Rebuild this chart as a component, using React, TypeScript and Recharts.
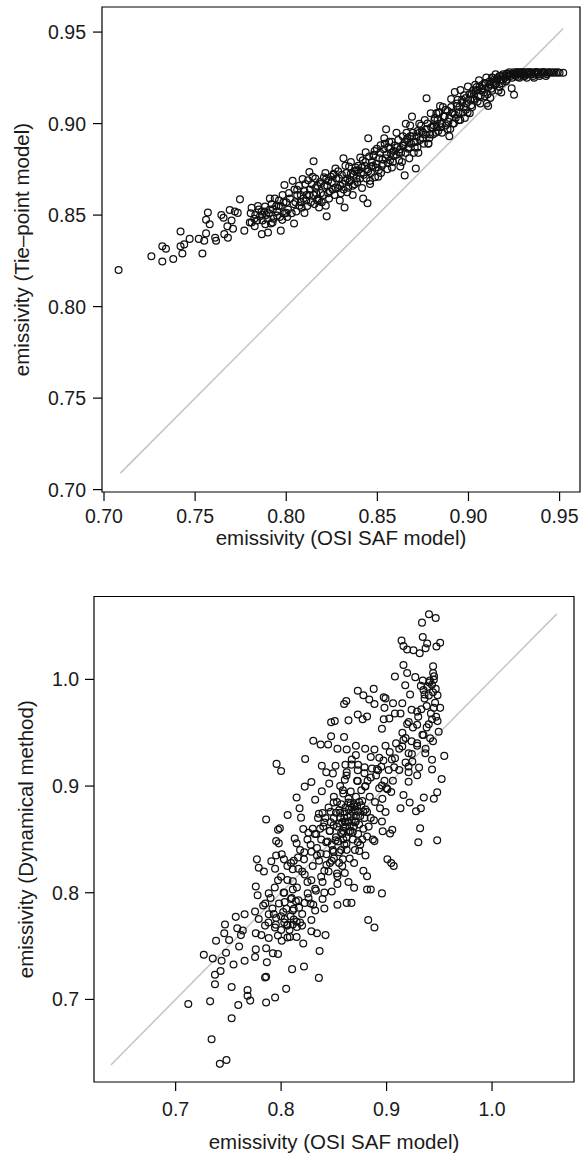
import React from "react";
import { ScatterChart, Scatter, XAxis, YAxis, ReferenceLine, ReferenceArea, Label } from "recharts";

// ---------- Top panel: OSI SAF model (x) vs Tie-point model (y) ----------
const topXTicks = [0.7, 0.75, 0.8, 0.85, 0.9, 0.95];
const topXDomain = [0.6989, 0.9612];
const topYDomain = [0.6987, 0.9637];
const topDiagonal = [0.709, 0.952];
const tiePointPairs: [number, number][] = [
  [0.708, 0.820], [0.726, 0.8275], [0.732, 0.833], [0.732, 0.8246], [0.734, 0.8316], [0.738, 0.826],
  [0.742, 0.841], [0.742, 0.833], [0.743, 0.829], [0.744, 0.834], [0.747, 0.837], [0.752, 0.837],
  [0.754, 0.829], [0.755, 0.836], [0.756, 0.8475], [0.757, 0.8514], [0.756, 0.840], [0.758, 0.845],
  [0.761, 0.8376], [0.7615, 0.836], [0.7644, 0.850], [0.7656, 0.8485], [0.766, 0.8396], [0.7677, 0.8439],
  [0.768, 0.8376], [0.769, 0.8528], [0.770, 0.847], [0.7708, 0.8425], [0.7718, 0.852], [0.7734, 0.8512],
  [0.7746, 0.8586], [0.777, 0.8415], [0.781, 0.854], [0.780, 0.846], [0.7827, 0.8439], [0.784, 0.847],
  [0.7856, 0.8493], [0.7866, 0.8396], [0.7868, 0.8503], [0.788, 0.852], [0.7884, 0.8547], [0.7897, 0.848],
  [0.790, 0.8405], [0.791, 0.859], [0.7916, 0.8454], [0.7927, 0.8532], [0.7937, 0.859], [0.795, 0.8497],
  [0.796, 0.8551], [0.797, 0.8415], [0.7978, 0.8474], [0.798, 0.861], [0.799, 0.8664], [0.800, 0.857],
  [0.800, 0.8512], [0.8035, 0.8687], [0.8043, 0.8454], [0.805, 0.857], [0.806, 0.8639], [0.8072, 0.8551],
  [0.808, 0.861], [0.809, 0.8697], [0.810, 0.8512], [0.8112, 0.861], [0.8127, 0.8736], [0.814, 0.8668],
  [0.815, 0.8794], [0.816, 0.8648], [0.8171, 0.858], [0.818, 0.8542], [0.819, 0.867], [0.8207, 0.8707],
  [0.8217, 0.8551], [0.8222, 0.8493], [0.823, 0.8687], [0.824, 0.863], [0.826, 0.8726], [0.827, 0.8755],
  [0.8284, 0.8648], [0.8294, 0.858], [0.8314, 0.881], [0.832, 0.8542], [0.8324, 0.8687], [0.8334, 0.8625],
  [0.8345, 0.8765], [0.8355, 0.8726], [0.8365, 0.861], [0.8375, 0.8668], [0.8385, 0.8745], [0.8395, 0.8745],
  [0.8406, 0.8814], [0.8416, 0.8648], [0.8422, 0.859], [0.8436, 0.8843], [0.8446, 0.8565], [0.845, 0.892],
  [0.846, 0.8687], [0.8467, 0.8765], [0.8477, 0.8823], [0.8487, 0.8707], [0.8497, 0.8862], [0.8508, 0.8745],
  [0.8518, 0.8882], [0.8528, 0.8804], [0.8538, 0.892], [0.8548, 0.8969], [0.8558, 0.8784], [0.8569, 0.8862],
  [0.8579, 0.89], [0.8589, 0.8823], [0.8605, 0.895], [0.862, 0.8843], [0.8626, 0.8765], [0.864, 0.8882],
  [0.865, 0.8717], [0.8656, 0.8999], [0.866, 0.891], [0.867, 0.8862], [0.868, 0.8931], [0.869, 0.9038],
  [0.8701, 0.89], [0.8711, 0.8755], [0.8721, 0.896], [0.873, 0.8999], [0.875, 0.895], [0.877, 0.9138],
  [0.878, 0.8891], [0.8793, 0.9057], [0.8803, 0.8979], [0.8813, 0.9018], [0.8824, 0.9057], [0.8834, 0.896],
  [0.8844, 0.9096], [0.8854, 0.8999], [0.8864, 0.9038], [0.8875, 0.9076], [0.8885, 0.8969], [0.8895, 0.8931],
  [0.8905, 0.9134], [0.8915, 0.9057], [0.8925, 0.9173], [0.8936, 0.9096], [0.8946, 0.9018], [0.8956, 0.9183],
  [0.8966, 0.9115], [0.8976, 0.9154], [0.8986, 0.9076], [0.8997, 0.9203], [0.9007, 0.9057], [0.9017, 0.9164],
  [0.9027, 0.9134], [0.9037, 0.9212], [0.9047, 0.9183], [0.9058, 0.9236], [0.9068, 0.9154], [0.9078, 0.9193],
  [0.9088, 0.9222], [0.9098, 0.9251], [0.9108, 0.9096], [0.9119, 0.9212], [0.9129, 0.9251], [0.9139, 0.9228],
  [0.9149, 0.927], [0.916, 0.9247], [0.917, 0.926], [0.918, 0.9241], [0.919, 0.927], [0.92, 0.9251],
  [0.921, 0.9274], [0.9237, 0.9193], [0.925, 0.9158], [0.923, 0.926], [0.926, 0.9274], [0.927, 0.9255],
  [0.928, 0.9278], [0.930, 0.926], [0.932, 0.9278], [0.934, 0.927], [0.936, 0.9278], [0.938, 0.927],
  [0.940, 0.9278], [0.942, 0.9278], [0.944, 0.9278], [0.946, 0.9278], [0.948, 0.9278], [0.950, 0.9278],
  [0.952, 0.9278],
  [0.781, 0.846], [0.783, 0.850], [0.785, 0.853], [0.787, 0.847], [0.789, 0.850], [0.791, 0.853],
  [0.793, 0.848], [0.795, 0.852], [0.797, 0.855], [0.799, 0.851], [0.792, 0.856], [0.796, 0.858],
  [0.801, 0.853], [0.802, 0.859], [0.804, 0.856], [0.806, 0.861], [0.808, 0.857], [0.810, 0.863],
  [0.811, 0.858], [0.813, 0.864], [0.815, 0.861], [0.817, 0.866], [0.819, 0.862], [0.812, 0.869],
  [0.816, 0.870], [0.818, 0.858],
  [0.821, 0.866], [0.823, 0.862], [0.825, 0.868], [0.827, 0.865], [0.829, 0.870], [0.831, 0.867],
  [0.833, 0.873], [0.835, 0.869], [0.837, 0.872], [0.839, 0.868], [0.826, 0.872], [0.834, 0.865],
  [0.838, 0.876], [0.822, 0.870], [0.830, 0.862],
  [0.841, 0.873], [0.843, 0.877], [0.845, 0.874], [0.847, 0.879], [0.849, 0.876], [0.851, 0.881],
  [0.853, 0.878], [0.855, 0.883], [0.857, 0.880], [0.859, 0.885], [0.844, 0.870], [0.848, 0.883],
  [0.852, 0.873], [0.856, 0.887], [0.858, 0.876], [0.846, 0.867], [0.854, 0.889], [0.842, 0.880],
  [0.861, 0.887], [0.863, 0.884], [0.865, 0.890], [0.867, 0.887], [0.869, 0.893], [0.871, 0.890],
  [0.873, 0.895], [0.875, 0.892], [0.877, 0.897], [0.879, 0.894], [0.862, 0.880], [0.866, 0.895],
  [0.870, 0.884], [0.874, 0.899], [0.878, 0.889], [0.868, 0.899], [0.872, 0.887], [0.876, 0.902],
  [0.864, 0.893],
  [0.881, 0.899], [0.883, 0.902], [0.885, 0.898], [0.887, 0.904], [0.889, 0.901], [0.891, 0.906],
  [0.893, 0.903], [0.895, 0.909], [0.897, 0.906], [0.899, 0.911], [0.882, 0.895], [0.886, 0.909],
  [0.890, 0.897], [0.894, 0.913], [0.898, 0.903], [0.884, 0.906], [0.892, 0.900],
  [0.901, 0.913], [0.903, 0.916], [0.905, 0.912], [0.907, 0.918], [0.909, 0.915], [0.911, 0.920],
  [0.913, 0.918], [0.915, 0.922], [0.917, 0.920], [0.919, 0.924], [0.902, 0.909], [0.906, 0.920],
  [0.910, 0.911], [0.914, 0.924], [0.918, 0.917], [0.904, 0.918], [0.912, 0.914],
  [0.921, 0.924], [0.922, 0.927], [0.924, 0.925], [0.925, 0.928], [0.926, 0.926], [0.927, 0.928],
  [0.929, 0.927], [0.930, 0.928], [0.931, 0.926], [0.933, 0.928], [0.935, 0.927], [0.937, 0.928],
  [0.939, 0.926], [0.941, 0.928], [0.943, 0.927], [0.945, 0.928], [0.947, 0.928], [0.949, 0.928],
  [0.928, 0.925], [0.932, 0.925], [0.936, 0.925],
  [0.8005, 0.849], [0.8015, 0.862], [0.803, 0.851], [0.8045, 0.864], [0.8055, 0.852], [0.807, 0.866],
  [0.8085, 0.854], [0.8095, 0.859], [0.8105, 0.867], [0.8115, 0.855], [0.8125, 0.861], [0.8135, 0.857],
  [0.8145, 0.871], [0.8155, 0.856], [0.8165, 0.862], [0.8175, 0.859], [0.8185, 0.868], [0.8195, 0.857],
  [0.8205, 0.861], [0.8215, 0.873], [0.8225, 0.866], [0.8235, 0.859], [0.8245, 0.871], [0.8255, 0.864],
  [0.8265, 0.861], [0.8275, 0.870], [0.8285, 0.874], [0.8295, 0.866], [0.8305, 0.872], [0.8315, 0.864],
  [0.8325, 0.877], [0.8335, 0.870], [0.8345, 0.868], [0.8355, 0.879], [0.8365, 0.866], [0.8375, 0.874],
  [0.8385, 0.870], [0.8395, 0.877],
  [0.8405, 0.870], [0.8415, 0.876], [0.8425, 0.872], [0.8435, 0.879], [0.8445, 0.875], [0.8455, 0.882],
  [0.8465, 0.873], [0.8475, 0.877], [0.8485, 0.885], [0.8495, 0.878], [0.8505, 0.871], [0.8515, 0.884],
  [0.8525, 0.877], [0.8535, 0.886], [0.8545, 0.881], [0.8555, 0.875], [0.8565, 0.890], [0.8575, 0.884],
  [0.8585, 0.879], [0.8595, 0.888],
  [0.8605, 0.883], [0.8615, 0.891], [0.8625, 0.886], [0.8635, 0.879], [0.8645, 0.888], [0.8655, 0.884],
  [0.8665, 0.892], [0.8675, 0.881], [0.8685, 0.889], [0.8695, 0.895], [0.8705, 0.887], [0.8715, 0.893],
  [0.8725, 0.884], [0.8735, 0.891], [0.8745, 0.896], [0.8755, 0.889], [0.8765, 0.894], [0.8775, 0.900],
  [0.8785, 0.892], [0.8795, 0.898],
  [0.8805, 0.894], [0.8815, 0.903], [0.8825, 0.898], [0.8835, 0.906], [0.8845, 0.900], [0.8855, 0.895],
  [0.8865, 0.904], [0.8875, 0.899], [0.8885, 0.907], [0.8895, 0.903], [0.8905, 0.909], [0.8915, 0.900],
  [0.8925, 0.905], [0.8935, 0.911], [0.8945, 0.906], [0.8955, 0.902], [0.8965, 0.913], [0.8975, 0.909],
  [0.8985, 0.914], [0.8995, 0.906],
  [0.9005, 0.916], [0.9015, 0.910], [0.9025, 0.918], [0.9035, 0.913], [0.9045, 0.920], [0.9055, 0.915],
  [0.9065, 0.911], [0.9075, 0.921], [0.9085, 0.917], [0.9095, 0.922], [0.9105, 0.916], [0.9115, 0.923],
  [0.9125, 0.919], [0.9135, 0.925], [0.9145, 0.921], [0.9155, 0.924], [0.9165, 0.918], [0.9175, 0.926],
  [0.9185, 0.922], [0.9195, 0.926], [0.9205, 0.923], [0.9215, 0.926], [0.9225, 0.928], [0.9235, 0.927],
  [0.9245, 0.927],
  [0.9255, 0.927], [0.9265, 0.928], [0.9275, 0.927], [0.9285, 0.928], [0.9295, 0.928], [0.9305, 0.927],
  [0.9315, 0.928], [0.9325, 0.927], [0.9335, 0.928], [0.9345, 0.928], [0.9355, 0.926], [0.9365, 0.928],
  [0.9375, 0.928], [0.9385, 0.928], [0.9395, 0.927], [0.9405, 0.928], [0.9415, 0.928], [0.9425, 0.926],
  [0.9435, 0.928],
  [0.7805, 0.851], [0.7825, 0.848], [0.7845, 0.855], [0.7865, 0.852], [0.7885, 0.845], [0.7905, 0.851],
  [0.7925, 0.846], [0.7945, 0.855], [0.7965, 0.849], [0.7985, 0.857],
];

// ---------- Bottom panel: OSI SAF model (x) vs Dynamical method (y) ----------
const botXTicks = [0.7, 0.8, 0.9, 1.0];
const botDomain = [0.6226, 1.0777];
const botDiagonal = [0.6386, 1.0614];
const dynamicalPairs: [number, number][] = [
  [0.9402, 1.061], [0.9466, 1.0575], [0.9336, 1.0532], [0.9343, 1.0397], [0.9142, 1.0365], [0.9508, 1.0344],
  [0.9385, 1.0337], [0.916, 1.0312], [0.9195, 1.028], [0.9255, 1.0273], [0.9314, 1.0245], [0.9473, 1.0309],
  [0.937, 1.0291], [0.916, 1.0135], [0.9441, 1.0124], [0.9195, 1.006], [0.9079, 1.0028], [0.9272, 1.0021],
  [0.9441, 1.006], [0.9343, 0.9989], [0.9406, 0.9971], [0.9325, 0.9939], [0.9448, 0.9996], [0.9466, 0.9911],
  [0.9177, 0.9946], [0.9223, 0.9858], [0.936, 0.9858], [0.9483, 0.9851], [0.8878, 0.9911], [0.8727, 0.9893],
  [0.878, 0.9851], [0.8836, 0.9812], [0.8618, 0.9797], [0.8597, 0.9769], [0.8973, 0.9833], [0.899, 0.9822],
  [0.9061, 0.9776], [0.9149, 0.9776], [0.9132, 0.968], [0.9079, 0.968], [0.8885, 0.9769], [0.898, 0.9733],
  [0.9237, 0.9716], [0.929, 0.9698], [0.9448, 0.9733], [0.9508, 0.9733], [0.8727, 0.967], [0.8815, 0.9652],
  [0.8773, 0.9627], [0.8639, 0.9616], [0.8474, 0.9599], [0.8509, 0.9609], [0.8973, 0.9627], [0.9026, 0.9634],
  [0.9195, 0.9581], [0.929, 0.9574], [0.9431, 0.9627], [0.9483, 0.9609], [0.9494, 0.951], [0.8956, 0.9538],
  [0.935, 0.9478], [0.8597, 0.946], [0.8474, 0.9467], [0.8305, 0.9425], [0.8375, 0.9389], [0.8446, 0.9389],
  [0.916, 0.9432], [0.9237, 0.9421], [0.9413, 0.9449], [0.9149, 0.9371], [0.929, 0.9378], [0.8709, 0.9378],
  [0.8797, 0.935], [0.899, 0.9378], [0.8885, 0.9343], [0.8534, 0.935], [0.8622, 0.9343], [0.9209, 0.9307],
  [0.9367, 0.9307], [0.9547, 0.9283], [0.8228, 0.9254], [0.8709, 0.929], [0.885, 0.9272], [0.8931, 0.9265],
  [0.9244, 0.9229], [0.7957, 0.9208], [0.8, 0.9141], [0.8386, 0.919], [0.8516, 0.919], [0.8667, 0.9201],
  [0.8791, 0.9176], [0.8861, 0.9165], [0.9072, 0.9176], [0.9209, 0.9183], [0.9308, 0.9173], [0.9431, 0.9247],
  [0.9431, 0.9155], [0.8428, 0.913], [0.8491, 0.9119], [0.8622, 0.913], [0.8727, 0.9148], [0.892, 0.9148],
  [0.9209, 0.913], [0.929, 0.9102], [0.9522, 0.9066], [0.8224, 0.8995], [0.8287, 0.9038], [0.8456, 0.9023],
  [0.8604, 0.9059], [0.8727, 0.9048], [0.8797, 0.8995], [0.8956, 0.9006], [0.9008, 0.897], [0.9044, 0.8945],
  [0.916, 0.8917], [0.9209, 0.9041], [0.8386, 0.8952], [0.8586, 0.896], [0.948, 0.8942], [0.9353, 0.8892],
  [0.9448, 0.8881], [0.9219, 0.8846], [0.9132, 0.8793], [0.9279, 0.8764], [0.8147, 0.8892], [0.8175, 0.8793],
  [0.8323, 0.8871], [0.8358, 0.874], [0.8393, 0.8747], [0.8498, 0.8846], [0.8551, 0.8775], [0.8639, 0.8846],
  [0.8692, 0.881], [0.8815, 0.8757], [0.8938, 0.8793], [0.899, 0.8757], [0.9325, 0.8793], [0.8062, 0.8729],
  [0.8189, 0.8704], [0.7858, 0.8686], [0.841, 0.8658], [0.8498, 0.8633], [0.8604, 0.8668], [0.8709, 0.8668],
  [0.8956, 0.8668], [0.8963, 0.8576], [0.9054, 0.859], [0.9033, 0.8555], [0.9318, 0.8605], [0.821, 0.8597],
  [0.8259, 0.8562], [0.8333, 0.8551], [0.8463, 0.858], [0.8569, 0.8562], [0.8657, 0.858], [0.7971, 0.859],
  [0.7988, 0.8605], [0.9301, 0.8473], [0.948, 0.8491], [0.7953, 0.8484], [0.7978, 0.8463], [0.8129, 0.8509],
  [0.8147, 0.8463], [0.8428, 0.8473], [0.8516, 0.8491], [0.8727, 0.8473], [0.8815, 0.8527], [0.8885, 0.8484],
  [0.8287, 0.8384], [0.8375, 0.8367], [0.8498, 0.8384], [0.8622, 0.8402], [0.8741, 0.8392], [0.8006, 0.836],
  [0.8027, 0.8313], [0.7953, 0.8349], [0.8094, 0.8278], [0.8217, 0.8313], [0.834, 0.8349], [0.8463, 0.8278],
  [0.8586, 0.8313], [0.8692, 0.8278], [0.777, 0.8313], [0.7907, 0.8296], [0.7788, 0.8235], [0.7837, 0.82],
  [0.7943, 0.8225], [0.8164, 0.8225], [0.8224, 0.8171], [0.841, 0.8207], [0.8534, 0.8154], [0.8604, 0.8186],
  [0.878, 0.8207], [0.8815, 0.8154], [0.9008, 0.8313], [0.9044, 0.8278], [0.9068, 0.825], [0.7971, 0.8118],
  [0.8111, 0.8108], [0.8287, 0.8118], [0.8393, 0.81], [0.8534, 0.8083], [0.8639, 0.81], [0.8692, 0.8047],
  [0.776, 0.8058], [0.7777, 0.7976], [0.7883, 0.7994], [0.8111, 0.803], [0.8323, 0.8037], [0.841, 0.8001],
  [0.848, 0.8012], [0.8815, 0.803], [0.885, 0.803], [0.8956, 0.7994], [0.8024, 0.8001], [0.8252, 0.7994],
  [0.8094, 0.7941], [0.8164, 0.793], [0.8393, 0.7941], [0.8534, 0.7887], [0.8622, 0.7905], [0.8667, 0.7905],
  [0.783, 0.788], [0.7918, 0.7852], [0.8034, 0.7912], [0.8224, 0.7905], [0.8305, 0.7887], [0.7753, 0.7824],
  [0.7654, 0.7799], [0.7883, 0.7799], [0.8111, 0.7834], [0.8323, 0.7834], [0.841, 0.7852], [0.757, 0.7774],
  [0.7788, 0.7753], [0.7953, 0.7763], [0.8034, 0.7753], [0.8147, 0.7728], [0.8287, 0.7745], [0.8826, 0.7745],
  [0.8885, 0.7674], [0.7468, 0.7703], [0.7584, 0.7667], [0.7637, 0.7646], [0.7848, 0.7692], [0.7942, 0.7674],
  [0.8059, 0.7692], [0.8111, 0.7703], [0.8199, 0.7692], [0.8287, 0.7639], [0.834, 0.7621], [0.8421, 0.7603],
  [0.7461, 0.7621], [0.7619, 0.7603], [0.776, 0.7621], [0.7813, 0.7603], [0.7883, 0.7575], [0.8006, 0.755],
  [0.8083, 0.7586], [0.8147, 0.7586], [0.821, 0.7525], [0.7383, 0.755], [0.7507, 0.7557], [0.7602, 0.7497],
  [0.776, 0.7469], [0.7858, 0.7479], [0.7922, 0.7433], [0.7971, 0.7426], [0.8365, 0.7454], [0.7267, 0.7419],
  [0.7352, 0.7383], [0.7478, 0.7437], [0.7654, 0.7362], [0.7753, 0.7398], [0.7436, 0.7362], [0.7426, 0.7266],
  [0.7373, 0.7231], [0.7549, 0.7327], [0.7865, 0.7348], [0.8104, 0.7284], [0.8217, 0.7309], [0.7373, 0.7142],
  [0.7531, 0.7117], [0.7858, 0.7213], [0.7848, 0.7206], [0.8358, 0.7202], [0.8048, 0.7099], [0.7682, 0.7089],
  [0.7682, 0.7035], [0.7707, 0.6989], [0.7327, 0.6982], [0.712, 0.6957], [0.7594, 0.6947], [0.7858, 0.6972],
  [0.7943, 0.7018], [0.7531, 0.6823], [0.7341, 0.6627], [0.7419, 0.6396], [0.7482, 0.6432],
  [0.850, 0.870], [0.853, 0.862], [0.856, 0.875], [0.858, 0.866], [0.861, 0.880], [0.863, 0.871],
  [0.866, 0.884], [0.868, 0.876], [0.870, 0.866], [0.872, 0.881], [0.875, 0.872], [0.877, 0.886],
  [0.880, 0.878], [0.859, 0.858], [0.865, 0.862], [0.871, 0.890], [0.854, 0.848], [0.862, 0.852],
  [0.868, 0.857], [0.874, 0.864], [0.846, 0.858], [0.848, 0.845], [0.857, 0.840], [0.843, 0.836],
  [0.838, 0.850], [0.834, 0.842], [0.840, 0.862], [0.866, 0.895], [0.876, 0.896], [0.882, 0.905],
  [0.890, 0.910], [0.895, 0.918], [0.905, 0.925], [0.912, 0.935], [0.918, 0.945], [0.925, 0.955],
  [0.930, 0.965], [0.938, 0.975], [0.940, 0.985], [0.943, 0.995], [0.935, 0.990], [0.945, 1.003],
  [0.942, 0.968], [0.938, 0.955], [0.944, 0.942], [0.937, 0.935], [0.820, 0.820], [0.825, 0.810],
  [0.815, 0.805], [0.810, 0.795], [0.805, 0.785], [0.800, 0.778], [0.795, 0.770], [0.812, 0.775],
  [0.808, 0.765], [0.800, 0.765], [0.817, 0.786], [0.826, 0.795], [0.830, 0.825], [0.836, 0.830],
  [0.845, 0.820], [0.850, 0.832], [0.855, 0.828], [0.860, 0.845], [0.878, 0.860], [0.885, 0.870],
  [0.889, 0.885], [0.893, 0.898], [0.898, 0.905], [0.902, 0.915], [0.908, 0.926], [0.884, 0.890],
  [0.880, 0.900], [0.872, 0.905], [0.862, 0.910], [0.856, 0.900], [0.850, 0.890], [0.845, 0.880],
  [0.835, 0.870], [0.830, 0.860], [0.825, 0.850], [0.818, 0.840], [0.812, 0.830], [0.806, 0.825],
  [0.800, 0.815], [0.794, 0.805], [0.790, 0.795], [0.785, 0.790],
  [0.852, 0.875], [0.857, 0.883], [0.860, 0.870], [0.864, 0.878], [0.867, 0.868], [0.869, 0.883],
  [0.873, 0.876], [0.876, 0.882], [0.879, 0.870], [0.855, 0.865], [0.861, 0.862], [0.866, 0.872],
  [0.870, 0.878], [0.858, 0.855], [0.852, 0.852], [0.847, 0.866], [0.844, 0.848], [0.849, 0.840],
  [0.855, 0.838], [0.862, 0.846], [0.868, 0.850], [0.873, 0.855], [0.877, 0.850], [0.883, 0.862],
  [0.888, 0.868], [0.864, 0.888], [0.859, 0.893], [0.853, 0.885], [0.847, 0.876], [0.842, 0.870],
  [0.837, 0.860], [0.832, 0.855], [0.828, 0.845], [0.822, 0.838], [0.816, 0.833], [0.811, 0.822],
  [0.806, 0.812], [0.803, 0.800], [0.798, 0.790], [0.793, 0.780], [0.788, 0.772], [0.803, 0.772],
  [0.797, 0.760], [0.806, 0.758], [0.815, 0.768], [0.820, 0.780], [0.828, 0.790], [0.833, 0.802],
  [0.838, 0.815], [0.843, 0.826], [0.848, 0.830], [0.853, 0.818], [0.858, 0.825], [0.865, 0.832],
  [0.870, 0.840], [0.875, 0.845], [0.880, 0.835], [0.887, 0.850],
  [0.933, 0.972], [0.936, 0.982], [0.939, 0.993], [0.941, 0.999], [0.944, 0.988], [0.946, 0.978],
  [0.947, 0.965], [0.940, 0.958], [0.934, 0.948], [0.929, 0.940], [0.924, 0.930], [0.918, 0.922],
  [0.912, 0.915], [0.906, 0.905], [0.900, 0.898], [0.896, 0.888], [0.921, 0.960], [0.915, 0.950],
  [0.909, 0.940], [0.903, 0.932], [0.897, 0.924], [0.891, 0.916], [0.885, 0.908], [0.879, 0.912],
  [0.873, 0.920], [0.867, 0.925], [0.861, 0.920],
  [0.863, 0.866], [0.867, 0.880], [0.871, 0.872], [0.874, 0.885], [0.878, 0.876], [0.860, 0.876],
  [0.856, 0.870], [0.869, 0.862], [0.864, 0.857], [0.859, 0.850], [0.812, 0.785], [0.809, 0.778],
  [0.814, 0.792], [0.806, 0.770], [0.818, 0.772], [0.802, 0.782],
];

const xTitle = "emissivity (OSI SAF model)";
const topYTitle = "emissivity (Tie\u2013point model)";
const botYTitle = "emissivity (Dynamical method)";

const FONT = "'Liberation Sans', Arial, Helvetica, sans-serif";
const TEXT = "#1a1a1a";

const topData = tiePointPairs.map(([x, y]) => ({ x, y }));
const botData = dynamicalPairs.map(([x, y]) => ({ x, y }));

const Ring = (props: any) => {
  const { cx, cy } = props;
  if (cx == null || cy == null) return null;
  return <circle cx={cx} cy={cy} r={3.4} fill="none" stroke="#111" strokeWidth={1.25} />;
};

const tickStyle = { fontSize: 19.5, fill: TEXT, fontFamily: FONT };

const xTitleContent = (dy: number) => (props: any) => {
  const vb = props.viewBox || {};
  return (
    <text x={vb.x + vb.width / 2} y={vb.y + dy} textAnchor="middle" fontSize={20.5} fill={TEXT} fontFamily={FONT}>
      {xTitle}
    </text>
  );
};

const yTitleContent = (text: string, baseX: number) => (props: any) => {
  const vb = props.viewBox || {};
  const cy = vb.y + vb.height / 2;
  return (
    <text
      x={baseX}
      y={cy}
      transform={`rotate(-90, ${baseX}, ${cy})`}
      textAnchor="middle"
      fontSize={20.5}
      fill={TEXT}
      fontFamily={FONT}
    >
      {text}
    </text>
  );
};

export default function App() {
  return (
    <div style={{ position: "absolute", left: 0, top: 0, width: 582, height: 1153, background: "#fff" }}>
      <div style={{ position: "absolute", left: 0, top: 0 }}>
        <ScatterChart width={582} height={560} margin={{ top: 7, right: 2, bottom: 8, left: 0 }}>
          <XAxis
            type="number"
            dataKey="x"
            domain={topXDomain}
            ticks={topXTicks}
            allowDataOverflow
            axisLine={false}
            tickLine={{ stroke: "#000", strokeWidth: 1.2 }}
            tickSize={9}
            tickMargin={8}
            height={60}
            tick={tickStyle}
            tickFormatter={(v: number) => v.toFixed(2)}
            interval={0}
          >
            <Label content={xTitleContent(53)} />
          </XAxis>
          <YAxis
            type="number"
            dataKey="y"
            domain={topYDomain}
            ticks={topXTicks}
            allowDataOverflow
            axisLine={false}
            tickLine={{ stroke: "#000", strokeWidth: 1.2 }}
            tickSize={9}
            tickMargin={7}
            width={102}
            tick={tickStyle}
            tickFormatter={(v: number) => v.toFixed(2)}
            interval={0}
          >
            <Label content={yTitleContent(topYTitle, 29)} />
          </YAxis>
          <ReferenceArea
            x1={topXDomain[0]}
            x2={topXDomain[1]}
            y1={topYDomain[0]}
            y2={topYDomain[1]}
            fill="none"
            fillOpacity={0}
            stroke="#000"
            strokeWidth={1.2}
            ifOverflow="visible"
          />
          <ReferenceLine
            segment={[
              { x: topDiagonal[0], y: topDiagonal[0] },
              { x: topDiagonal[1], y: topDiagonal[1] },
            ]}
            stroke="#c4c4c4"
            strokeWidth={1.5}
          />
          <Scatter data={topData} shape={Ring} isAnimationActive={false} />
        </ScatterChart>
      </div>
      <div style={{ position: "absolute", left: 0, top: 560 }}>
        <ScatterChart width={582} height={593} margin={{ top: 36.5, right: 8, bottom: 0, left: 0 }}>
          <XAxis
            type="number"
            dataKey="x"
            domain={botDomain}
            ticks={botXTicks}
            allowDataOverflow
            axisLine={false}
            tickLine={{ stroke: "#000", strokeWidth: 1.2 }}
            tickSize={9}
            tickMargin={11}
            height={71}
            tick={tickStyle}
            tickFormatter={(v: number) => v.toFixed(1)}
            interval={0}
          >
            <Label content={xTitleContent(66.5)} />
          </XAxis>
          <YAxis
            type="number"
            dataKey="y"
            domain={botDomain}
            ticks={botXTicks}
            allowDataOverflow
            axisLine={false}
            tickLine={{ stroke: "#000", strokeWidth: 1.2 }}
            tickSize={9}
            tickMargin={6}
            width={94}
            tick={tickStyle}
            tickFormatter={(v: number) => v.toFixed(1)}
            interval={0}
          >
            <Label content={yTitleContent(botYTitle, 33)} />
          </YAxis>
          <ReferenceArea
            x1={botDomain[0]}
            x2={botDomain[1]}
            y1={botDomain[0]}
            y2={botDomain[1]}
            fill="none"
            fillOpacity={0}
            stroke="#000"
            strokeWidth={1.2}
            ifOverflow="visible"
          />
          <ReferenceLine
            segment={[
              { x: botDiagonal[0], y: botDiagonal[0] },
              { x: botDiagonal[1], y: botDiagonal[1] },
            ]}
            stroke="#c4c4c4"
            strokeWidth={1.5}
          />
          <Scatter data={botData} shape={Ring} isAnimationActive={false} />
        </ScatterChart>
      </div>
    </div>
  );
}
